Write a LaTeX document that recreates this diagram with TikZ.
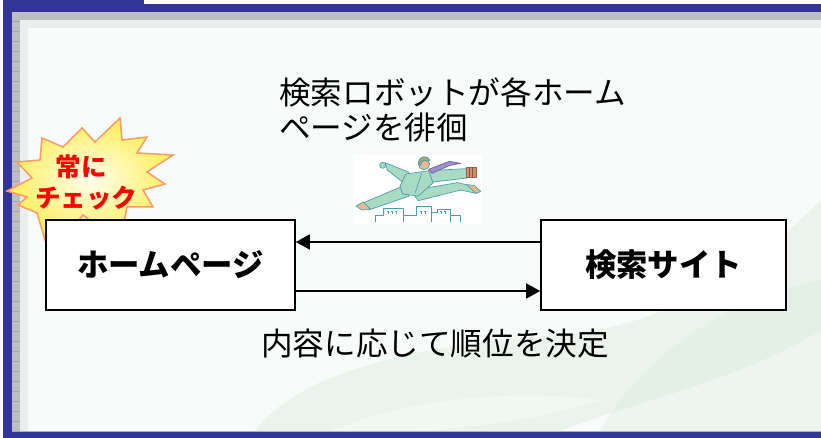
\documentclass[tikz,border=0pt]{standalone}
\usepackage{fontspec}
\newfontfamily\jp{Noto Sans CJK JP}
\usetikzlibrary{arrows.meta,calc}

\definecolor{frameblue}{HTML}{333399}
\definecolor{checkgray}{HTML}{BDBFBF}
\definecolor{lightband}{HTML}{ECEEED}
\definecolor{pagebg}{HTML}{F7FBFA}
\definecolor{leafgreen}{HTML}{D8EADB}
\definecolor{burstfill}{HTML}{FFEE5A}
\definecolor{burstedge}{HTML}{FF9966}
\definecolor{suitfill}{HTML}{A9DAC4}
\definecolor{suitline}{HTML}{4A9EA8}
\definecolor{tiecol}{HTML}{9D91CC}
\definecolor{casecol}{HTML}{D99068}
\definecolor{skincol}{HTML}{E9B993}
\definecolor{haircol}{HTML}{A9A67A}

\tikzset{
  box/.style={draw=black, line width=1.6pt, fill=white, minimum width=#1,
    minimum height=90pt, inner sep=0pt, font=\jp\bfseries\fontsize{31.4}{36}\selectfont},
  caption/.style={inner sep=0pt, anchor=west, font=\jp\fontsize{31.6}{38}\selectfont},
  flow/.style={line width=1.5pt, -{Triangle[length=14pt,width=15pt]}},
  burst/.style={inner sep=0pt, text=red, font=\jp\bfseries\fontsize{25.5}{30}\selectfont},
  clip line/.style={draw=suitline, line width=0.7pt, line join=round},
}

\begin{document}
\begin{tikzpicture}[x=1pt, y=-1pt]
\useasboundingbox (0,0) rectangle (821,438);

% slide frame and page
\fill[white] (0,0) rectangle (821,438);
\fill[pagebg] (28,28) rectangle (821,431);
\fill[frameblue] (3,0) rectangle (144,5);
\fill[frameblue] (3,4) rectangle (821,12);
\fill[frameblue] (3,4) rectangle (12,438);
\fill[frameblue] (3,432) rectangle (821,438);
\fill[checkgray] (12,12) rectangle (821,20);
\fill[checkgray] (12,12) rectangle (20,431);
\fill[lightband] (20,20) rectangle (821,28);
\fill[lightband] (20,20) rectangle (28,431);
\draw[gray!60, line width=0.6pt] (12,431.5) -- (821,431.5);
\foreach \t in {21,31,...,431}
  \draw[gray!70, line width=0.5pt] (12,\t) -- (20,\t);

% faint leaf watermark
\fill[leafgreen, opacity=0.4]
  (255,431) .. controls (300,370) and (420,345) .. (560,335)
  .. controls (680,325) and (760,260) .. (821,200)
  -- (821,330) .. controls (740,380) and (640,400) .. (560,431) -- cycle;
\fill[leafgreen, opacity=0.35]
  (600,431) .. controls (640,360) and (720,300) .. (821,280)
  -- (821,431) -- cycle;
\fill[white, opacity=0.35]
  (330,431) .. controls (420,395) and (520,390) .. (600,400)
  .. controls (540,420) and (460,428) .. (420,431) -- cycle;

% starburst badge
\path[draw=burstedge, line width=1.5pt, line join=miter,
      inner color={rgb,255:red,255;green,255;blue,238}, outer color=burstfill]
  (7,191) -- (32,178) -- (17,162) -- (40,160) -- (42,138) -- (63,147)
  -- (82,128) -- (95,142) -- (120,118) -- (122,140) -- (147,137)
  -- (137,153) -- (173,155) -- (147,172) -- (165,184) -- (143,190)
  -- (153,207) -- (127,207) -- (124,222) -- (97,226) -- (83,215)
  -- (67,233) -- (53,220) -- (45,240) -- (37,213) -- (18,205)
  -- (27,197) -- cycle;
\node[burst] (always) at (81,167) {常に};
\node[burst] (check) at (86,198) {チェック};

% running figure
\begin{scope}[shift={(350,150)}, scale=1/3]
  \fill[white] (10,15) rectangle (395,222);
  % buildings
  \draw[clip line, line width=0.8pt]
    (75,215) -- (75,195) -- (100,195) -- (100,175) -- (160,175) -- (160,215)
    (160,195) -- (200,195) -- (200,170) -- (245,170) -- (245,215)
    (245,188) -- (262,188) -- (262,178) -- (300,178) -- (300,215)
    (300,195) -- (330,195) -- (330,215);
  \foreach \wx in {110,122,134,210,222,270,282}
    \draw[suitline, line width=0.6pt] (\wx,184) -- (\wx+4,184) -- (\wx+4,192);
  % back leg and shoe
  \filldraw[clip line, fill=suitfill]
    (150,112) -- (178,138) -- (62,178) -- (36,160) -- cycle;
  \filldraw[clip line, fill=skincol]
    (40,156) -- (62,178) -- (35,180) -- (18,168) -- cycle;
  % front leg and shoe
  \filldraw[clip line, fill=suitfill]
    (182,122) -- (322,98) -- (350,104) -- (385,118) -- (378,130)
    -- (332,120) -- (205,152) -- cycle;
  \filldraw[clip line, fill=skincol]
    (350,104) -- (372,106) -- (392,124) -- (378,130) -- cycle;
  % rear arm and fist
  \filldraw[clip line, fill=suitfill]
    (105,38) -- (175,66) -- (190,86) -- (160,98) -- (112,60) -- cycle;
  \filldraw[clip line, fill=suitfill] (98,46) circle[radius=9];
  % jacket
  \filldraw[clip line, fill=suitfill]
    (168,72) -- (238,62) -- (250,98) -- (205,138) -- (158,132) -- (150,108) -- cycle;
  \draw[suitline, line width=0.6pt] (215,70) -- (195,130);
  % front arm and briefcase
  \filldraw[clip line, fill=suitfill]
    (236,62) -- (350,56) -- (352,84) -- (248,96) -- cycle;
  \filldraw[clip line, draw=casecol!70!black, fill=casecol]
    (348,52) rectangle (378,82);
  \draw[casecol!60!black, line width=0.6pt] (358,52) -- (358,82) (368,52) -- (368,82);
  % head, hair and tie
  \filldraw[clip line, fill=skincol] (222,42) circle[radius=17];
  \filldraw[clip line, fill=haircol]
    (205,36) .. controls (208,18) and (232,14) .. (240,30) -- (232,34)
    .. controls (224,28) and (214,32) .. (212,46) -- cycle;
  \filldraw[clip line, draw=tiecol!70!black, fill=tiecol]
    (236,58) -- (298,34) -- (332,40) -- (300,46) -- (246,70) -- cycle;
\end{scope}

% captions
\node[caption] (crawl1) at (279,92) {検索ロボットが各ホーム};
\node[caption] (crawl2) at (279,128) {ページを徘徊};
\node[caption] (rank) at (261,344) {内容に応じて順位を決定};

% boxes and flows
\node[box=249pt] (home) at (170.5,265) {ホームページ};
\node[box=245pt] (site) at (663.5,265) {検索サイト};
\draw[flow] ([yshift=23pt]site.west) -- ([yshift=23pt]home.east);
\draw[flow] ([yshift=-26pt]home.east) -- ([yshift=-26pt]site.west);
\end{tikzpicture}
\end{document}
